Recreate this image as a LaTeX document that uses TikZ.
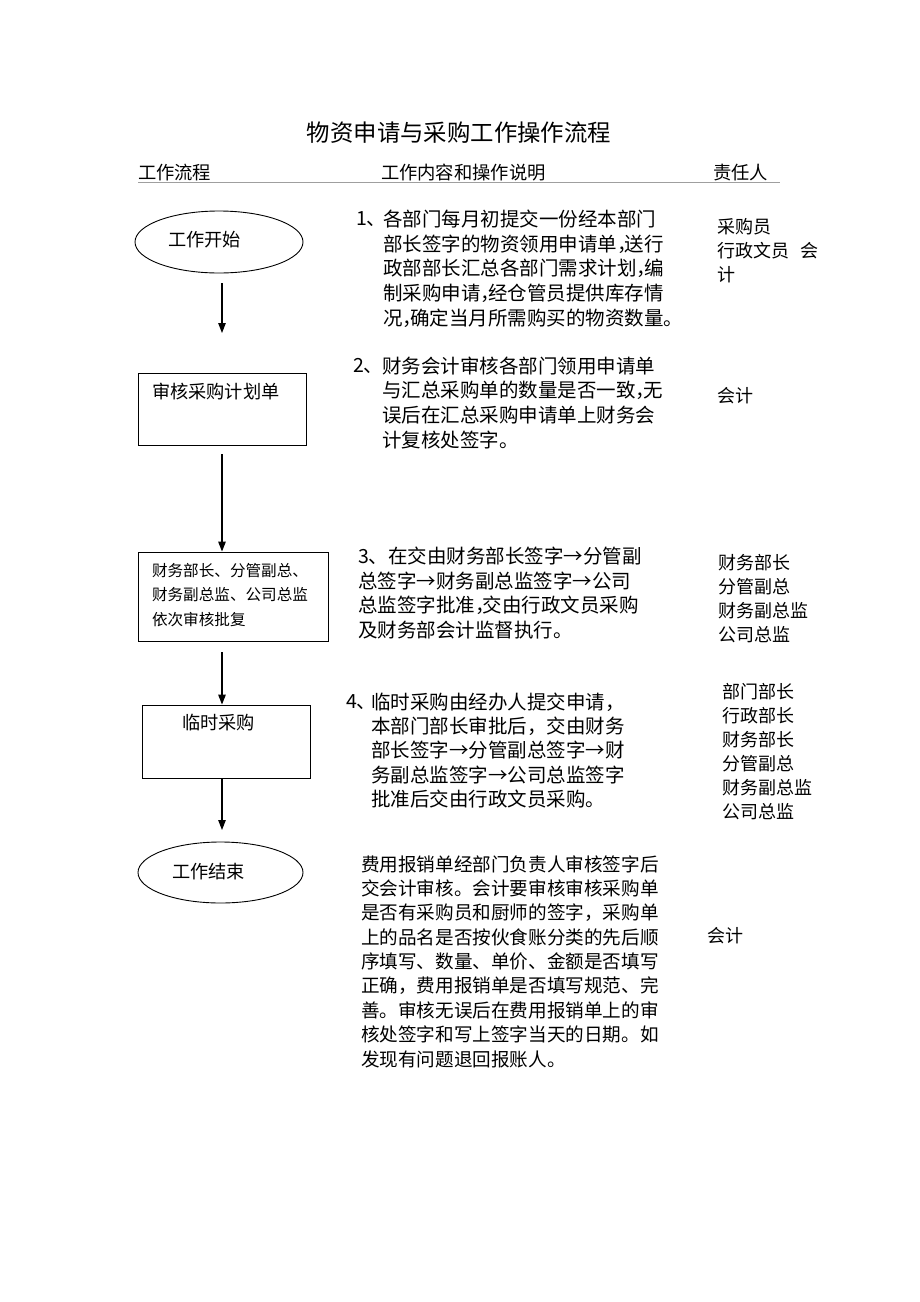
\documentclass[tikz,border=0pt]{standalone}
\usepackage{fontspec}
\newfontfamily\cjk{Noto Sans CJK SC}
\newcommand{\nc}{\makebox[0.4em][l]{，}}
\usetikzlibrary{arrows.meta,shapes.geometric}
\begin{document}
\begin{tikzpicture}[x=1pt,y=-1pt,
  txt/.style={inner sep=0pt,outer sep=0pt,anchor=west},
  titlef/.style={txt,anchor=center,font=\cjk\fontsize{23.4}{26}\selectfont},
  headf/.style={txt,font=\cjk\fontsize{18.3}{22}\selectfont},
  body/.style={txt,font=\cjk\fontsize{19.5}{24}\selectfont},
  body5/.style={txt,font=\cjk\fontsize{18.6}{24}\selectfont},
  boxf/.style={txt,font=\cjk\fontsize{18.2}{22}\selectfont},
  smallf/.style={txt,font=\cjk\fontsize{15.6}{20}\selectfont},
  resp/.style={txt,font=\cjk\fontsize{18}{22}\selectfont},
  oval/.style={draw,ellipse,line width=0.9pt,inner sep=0pt},
  stepbox/.style={draw,rectangle,line width=0.9pt,inner sep=0pt},
  arr/.style={line width=1.2pt,-{Triangle[length=10pt,width=7.5pt]}}
]
\useasboundingbox[fill=white] (0,0) rectangle (920,1302);

% title and header
\node[titlef] (title) at (459,133) {物资申请与采购工作操作流程};
\node[headf] (h1) at (138,173) {工作流程};
\node[headf] (h2) at (381,173) {工作内容和操作说明};
\node[headf] (h3) at (713,173) {责任人};
\draw[gray!75,line width=1.6pt] (138,182.5) -- (780,182.5);

% flow column
\node[oval,minimum width=168,minimum height=62] (start) at (219,242) {};
\node[boxf] (startt) at (168,240) {工作开始};
\coordinate (a1s) at (222,283);
\coordinate (a1e) at (222,333);
\draw[arr] (a1s) -- (a1e);

\node[stepbox,minimum width=168,minimum height=72] (b2) at (222,409) {};
\node[boxf] (b2t) at (152,392) {审核采购计划单};
\coordinate (a2s) at (222,454);
\node[stepbox,minimum width=190,minimum height=89] (b3) at (233,596.5) {};
\draw[arr] (a2s) -- (a2s |- b3.north);
\node[smallf] (b3t1) at (152,570.5) {财务部长、分管副总、};
\node[smallf] (b3t2) at (152,595) {财务副总监、公司总监};
\node[smallf] (b3t3) at (152,619.5) {依次审核批复};

\coordinate (a3s) at (222,652);
\node[stepbox,minimum width=168,minimum height=73] (b4) at (226,741.5) {};
\draw[arr] (a3s) -- (a3s |- b4.north);
\node[boxf] (b4t) at (182,723) {临时采购};
\coordinate (a4e) at (222,830);
\draw[arr] (a4e |- b4.south) -- (a4e);

\node[oval,minimum width=165,minimum height=61] (end) at (220.5,872.5) {};
\node[boxf] (endt) at (172,872) {工作结束};

% descriptions
\node[body] (p1n) at (356,219) {1、};
\foreach \t [count=\i] in {各部门每月初提交一份经本部门,部长签字的物资领用申请单\nc 送行,政部部长汇总各部门需求计划\nc 编,制采购申请\nc 经仓管员提供库存情,况\nc 确定当月所需购买的物资数量。}
  {\node[body] (p1-\i) at (383,{219+24.8*(\i-1)}) {\t};}

\node[body] (p2n) at (353,366) {2、};
\foreach \t [count=\i] in {财务会计审核各部门领用申请单,与汇总采购单的数量是否一致\nc 无,误后在汇总采购申请单上财务会,计复核处签字。}
  {\node[body] (p2-\i) at (382,{366+24.7*(\i-1)}) {\t};}

\foreach \t [count=\i] in {3、在交由财务部长签字→分管副,总签字→财务副总监签字→公司,总监签字批准\nc 交由行政文员采购,及财务部会计监督执行。}
  {\node[body] (p3-\i) at (358,{556+24.7*(\i-1)}) {\t};}

\node[body] (p4n) at (346,702) {4、};
\foreach \t [count=\i] in {临时采购由经办人提交申请，,本部门部长审批后，交由财务,部长签字→分管副总签字→财,务副总监签字→公司总监签字,批准后交由行政文员采购。}
  {\node[body] (p4-\i) at (371,{702+24.25*(\i-1)}) {\t};}

\foreach \t [count=\i] in {费用报销单经部门负责人审核签字后,交会计审核。会计要审核审核采购单,是否有采购员和厨师的签字，采购单,上的品名是否按伙食账分类的先后顺,序填写、数量、单价、金额是否填写,正确，费用报销单是否填写规范、完,善。审核无误后在费用报销单上的审,核处签字和写上签字当天的日期。如,发现有问题退回报账人。}
  {\node[body5] (p5-\i) at (361,{864+24.4*(\i-1)}) {\t};}

% responsible persons
\foreach \t [count=\i] in {采购员,行政文员\hspace{12pt}会,计}
  {\node[resp] (r1-\i) at (717,{227+24*(\i-1)}) {\t};}
\node[resp] (r2) at (717,396) {会计};
\foreach \t [count=\i] in {财务部长,分管副总,财务副总监,公司总监}
  {\node[resp] (r3-\i) at (718,{563+24*(\i-1)}) {\t};}
\foreach \t [count=\i] in {部门部长,行政部长,财务部长,分管副总,财务副总监,公司总监}
  {\node[resp] (r4-\i) at (722,{692+24*(\i-1)}) {\t};}
\node[resp] (r5) at (707,936) {会计};
\end{tikzpicture}
\end{document}
